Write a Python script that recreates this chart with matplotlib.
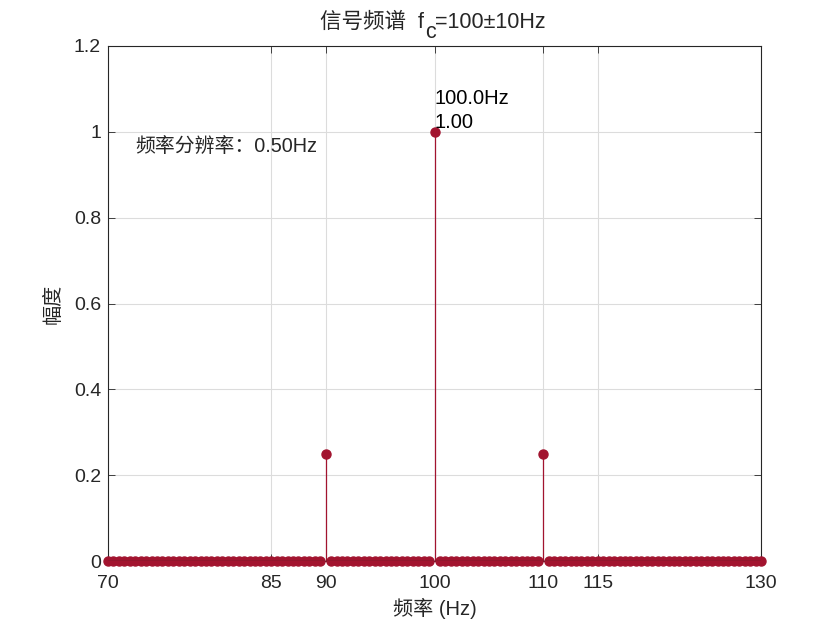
import numpy as np
import matplotlib
matplotlib.use("Agg")
import matplotlib.pyplot as plt

plt.rcParams["font.family"] = ["Liberation Sans", "Noto Sans CJK SC"]

# data
resolution = 0.5
f_start, f_stop = 70, 130
peak_freqs = [90, 100, 110]
peak_amps = [0.25, 1.0, 0.25]
xticks = [70, 85, 90, 100, 110, 115, 130]
yticks = [0, 0.2, 0.4, 0.6, 0.8, 1.0, 1.2]
ytick_labels = ["0", "0.2", "0.4", "0.6", "0.8", "1", "1.2"]

freqs = np.arange(f_start, f_stop + resolution / 2, resolution)
amps = np.zeros_like(freqs)
for pf, pa in zip(peak_freqs, peak_amps):
    amps[np.isclose(freqs, pf)] = pa

RED = "#A2142F"
DARK = "#262626"

fig = plt.figure(figsize=(8.4, 6.3), dpi=100)
ax = fig.add_axes([0.1286, 0.1095, 0.7774, 0.8175])

ax.grid(True, color="#dcdcdc", linewidth=0.8)
ax.set_axisbelow(True)

markers, stems, base = ax.stem(freqs, amps, linefmt="-", markerfmt="o", basefmt="-")
plt.setp(stems, color=RED, linewidth=0.9)
plt.setp(markers, color=RED, markersize=6.5, clip_on=False, zorder=3)
plt.setp(base, color=DARK, linewidth=0.9, zorder=4)

ax.set_xlim(f_start, f_stop)
ax.set_ylim(0, 1.2)
ax.set_xticks(xticks)
ax.set_yticks(yticks)
ax.set_yticklabels(ytick_labels)
ax.tick_params(direction="in", length=5, width=0.6, colors=DARK, labelsize=14,
               top=True, right=True)
ax.tick_params(axis="x", pad=10)
ax.tick_params(axis="y", pad=5)
for sp in ax.spines.values():
    sp.set_color(DARK)
    sp.set_linewidth(0.8)

# title in three pieces so that the subscript c keeps the same fonts
t1 = fig.text(320 / 840, 1 - 28 / 630, "信号频谱  f", fontsize=15.5, color=DARK,
              ha="left", va="baseline")
t2 = ax.annotate("c", xy=(1, 0), xycoords=t1, xytext=(0.5, -7), textcoords="offset points",
                 fontsize=15.5, color=DARK, ha="left", va="bottom")
ax.annotate("=100±10Hz", xy=(1, 0), xycoords=t2, xytext=(0, 7),
            textcoords="offset points", fontsize=15.5, color=DARK, ha="left", va="bottom")

ax.set_xlabel("频率 (Hz)", fontsize=14.5, color=DARK, labelpad=4)
ax.set_ylabel("幅度", fontsize=14.5, color=DARK, labelpad=8)

ax.text(100, 1.0, f"{peak_freqs[1]:.1f}Hz\n{peak_amps[1]:.2f}", fontsize=14.5,
        color="black", ha="left", va="bottom", linespacing=1.35)
ax.text(72.5, 0.965, f"频率分辨率：{resolution:.2f}Hz", fontsize=14.3, color=DARK,
        ha="left", va="center")

fig.savefig("out.png", dpi=100, facecolor="white")
